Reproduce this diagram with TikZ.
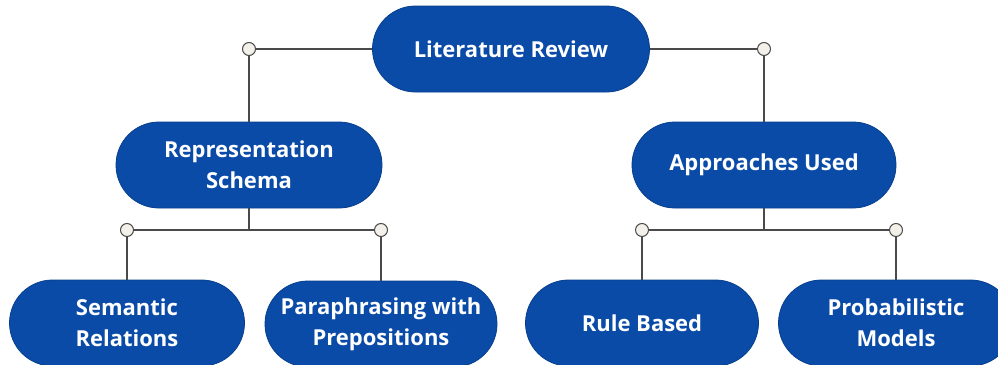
\documentclass[tikz,border=0pt]{standalone}
\usepackage{fontspec}
\setmainfont{Open Sans}
\usepackage{tikz}

\definecolor{boxblue}{HTML}{0A4BA8}
\definecolor{boxedge}{HTML}{083F8C}
\definecolor{linegrey}{HTML}{4A4A4A}
\definecolor{jointfill}{HTML}{F3F0EA}

\tikzset{
	topic/.style={shape=rectangle, rounded corners=43pt, fill=boxblue, draw=boxedge, line width=0.8pt,
		minimum height=86pt, inner sep=0pt, align=center, text=white,
		font=\fontsize{22}{31}\selectfont\bfseries},
	joint/.style={shape=circle, draw=linegrey, fill=jointfill, minimum size=13pt, inner sep=0pt, line width=1pt},
	link/.style={draw=linegrey, line width=1.6pt},
}

\begin{document}
\begin{tikzpicture}[x=1pt, y=-1pt]
	
	\useasboundingbox (0,0) rectangle (998,364);
	\clip (0,0) rectangle (998,364);
	
	\node[topic, minimum width=277pt] (lit)  at (511, 49)  {Literature Review};
	\node[topic, minimum width=266pt] (rep)  at (249, 165) {Representation\\Schema};
	\node[topic, minimum width=264pt] (appr) at (764, 165) {Approaches Used};
	\node[topic, minimum width=235pt] (sem)  at (127, 323) {Semantic\\Relations};
	\node[topic, minimum width=232pt] (para) at (381, 324) {Paraphrasing with\\Prepositions};
	\node[topic, minimum width=233pt] (rule) at (642, 323) {Rule Based};
	\node[topic, minimum width=235pt] (prob) at (896, 323) {Probabilistic\\Models};
	
	\node[joint] (j1) at (249, 49)  {};
	\node[joint] (j2) at (764, 49)  {};
	\node[joint] (j3) at (127, 230) {};
	\node[joint] (j4) at (381, 230) {};
	\node[joint] (j5) at (642, 230) {};
	\node[joint] (j6) at (896, 230) {};
	
	\coordinate (m1) at (rep.south |- j3);
	\coordinate (m2) at (appr.south |- j5);
	
	\path[link] (lit.west) -- (j1) -- (rep.north);
	\path[link] (lit.east) -- (j2) -- (appr.north);
	\path[link] (rep.south) -- (m1);
	\path[link] (j3) -- (j4);
	\path[link] (j3) -- (sem.north);
	\path[link] (j4) -- (para.north);
	\path[link] (appr.south) -- (m2);
	\path[link] (j5) -- (j6);
	\path[link] (j5) -- (rule.north);
	\path[link] (j6) -- (prob.north);
	
\end{tikzpicture}
\end{document}
